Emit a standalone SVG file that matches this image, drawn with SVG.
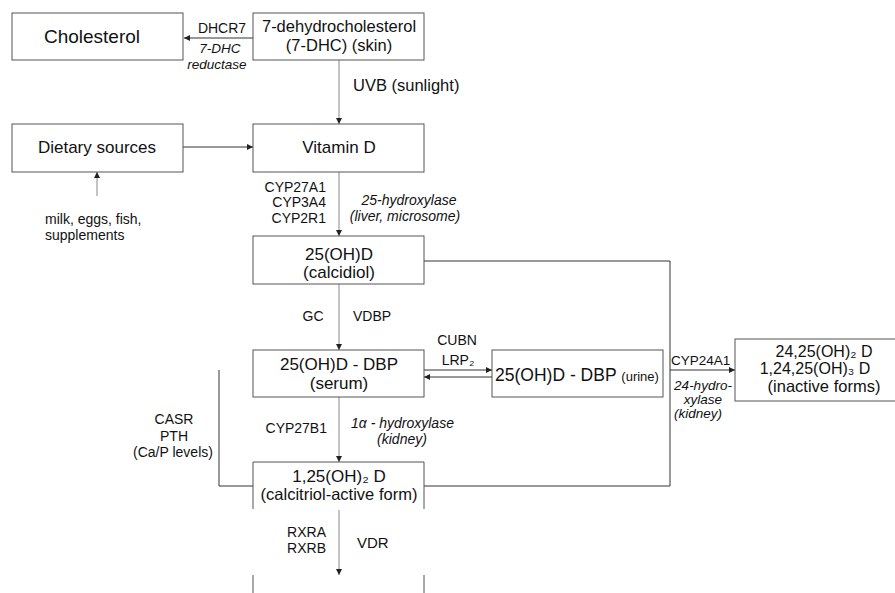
<svg xmlns="http://www.w3.org/2000/svg" width="895" height="593" viewBox="0 0 895 593">
<style>
text{font-family:"Liberation Sans",Arial,sans-serif;fill:#111}
.box{fill:#fff;stroke:#555;stroke-width:1}
.bt{font-size:17px;text-anchor:middle}
.lb{font-size:14px}
.it{font-size:14px;font-style:italic}
.c{text-anchor:middle}
.r{text-anchor:end}
.cg{fill:none;stroke:#888;stroke-width:1}
.cd{fill:none;stroke:#333;stroke-width:1}
</style>
<defs>
<marker id="ah" markerUnits="userSpaceOnUse" markerWidth="7" markerHeight="6" refX="6" refY="3" orient="auto">
<path d="M0,0 L6,3 L0,6 z" fill="#222"/>
</marker>
</defs>
<g id="connectors">
<line class="cd" x1="253" y1="38" x2="184" y2="38" marker-end="url(#ah)"/>
<line class="cg" x1="339" y1="60" x2="339" y2="124" marker-end="url(#ah)"/>
<line class="cd" x1="183" y1="147" x2="253" y2="147" marker-end="url(#ah)"/>
<line class="cg" x1="97" y1="196" x2="97" y2="172" marker-end="url(#ah)"/>
<line class="cg" x1="339" y1="172" x2="339" y2="236" marker-end="url(#ah)"/>
<line class="cg" x1="339" y1="284" x2="339" y2="350" marker-end="url(#ah)"/>
<line class="cd" x1="424" y1="370" x2="492" y2="370" marker-end="url(#ah)"/>
<line class="cd" x1="492" y1="377" x2="424" y2="377" marker-end="url(#ah)"/>
<line class="cg" x1="339" y1="397" x2="339" y2="462" marker-end="url(#ah)"/>
<polyline class="cd" points="424,261 670,261 670,486 424,486"/>
<line class="cd" x1="670" y1="370" x2="735" y2="370" marker-end="url(#ah)"/>
<polyline class="cd" points="219,370 219,486 253,486"/>
<line class="cg" x1="339" y1="510" x2="339" y2="575" marker-end="url(#ah)"/>
</g>
<g id="labels">
<text class="lb c" x="222" y="33">DHCR7</text>
<text class="it c" x="220" y="53" style="font-size:13.5px">7-DHC</text>
<text class="it c" x="217" y="69" style="font-size:13.5px">reductase</text>
<text x="353" y="91" style="font-size:16.5px">UVB (sunlight)</text>
<text class="lb" x="45" y="224">milk, eggs, fish,</text>
<text class="lb" x="45" y="240">supplements</text>
<text class="lb r" x="326" y="192">CYP27A1</text>
<text class="lb r" x="326" y="207">CYP3A4</text>
<text class="lb r" x="326" y="223">CYP2R1</text>
<text class="it c" x="409" y="205">25-hydroxylase</text>
<text class="it c" x="405" y="221">(liver, microsome)</text>
<text class="lb c" x="313" y="321">GC</text>
<text class="lb" x="353" y="321">VDBP</text>
<text class="lb c" x="457" y="345">CUBN</text>
<text class="lb c" x="458" y="365">LRP₂</text>
<text class="lb r" x="327" y="433">CYP27B1</text>
<text class="it" x="351" y="428">1α - hydroxylase</text>
<text class="it c" x="402" y="444">(kidney)</text>
<text class="lb c" x="174" y="424">CASR</text>
<text class="lb c" x="174" y="441">PTH</text>
<text class="lb c" x="173" y="457">(Ca/P levels)</text>
<text class="lb" x="671" y="365" style="font-size:13.5px">CYP24A1</text>
<text class="it c" x="703" y="390" style="font-size:13.5px">24-hydro-</text>
<text class="it c" x="703" y="404" style="font-size:13.5px">xylase</text>
<text class="it c" x="698" y="418" style="font-size:13.5px">(kidney)</text>
<text class="lb r" x="326" y="537">RXRA</text>
<text class="lb r" x="326" y="553">RXRB</text>
<text class="lb" x="357" y="548" style="font-size:15px">VDR</text>
</g>
<g id="cholesterol">
<rect class="box" x="12" y="13" width="171" height="47"/>
<text class="bt" x="92" y="43" style="font-size:19px">Cholesterol</text>
</g>
<g id="dhc">
<rect class="box" x="253" y="13" width="171" height="47"/>
<text class="bt" x="339" y="32" style="font-size:16.5px">7-dehydrocholesterol</text>
<text class="bt" x="339" y="51" style="font-size:16.5px">(7-DHC) (skin)</text>
</g>
<g id="dietary">
<rect class="box" x="12" y="124" width="171" height="48"/>
<text class="bt" x="97" y="153">Dietary sources</text>
</g>
<g id="vitd">
<rect class="box" x="253" y="124" width="171" height="48"/>
<text class="bt" x="339" y="153">Vitamin D</text>
</g>
<g id="calcidiol">
<rect class="box" x="253" y="236" width="171" height="48"/>
<text class="bt" x="339" y="260">25(OH)D</text>
<text class="bt" x="339" y="278">(calcidiol)</text>
</g>
<g id="serum">
<rect class="box" x="253" y="350" width="171" height="47"/>
<text class="bt" x="339" y="370">25(OH)D - DBP</text>
<text class="bt" x="339" y="389">(serum)</text>
</g>
<g id="urine">
<rect class="box" x="492" y="350" width="171" height="47"/>
<text class="bt" x="577" y="381"><tspan style="font-size:17.5px">25(OH)D - DBP</tspan> <tspan style="font-size:13px">(urine)</tspan></text>
</g>
<g id="inactive">
<rect class="box" x="735" y="339" width="170" height="62"/>
<text class="bt" x="824" y="357" style="font-size:16px">24,25(OH)₂ D</text>
<text class="bt" x="815" y="374" style="font-size:16px">1,24,25(OH)₃ D</text>
<text class="bt" x="824" y="392" style="font-size:16.5px">(inactive forms)</text>
</g>
<g id="calcitriol">
<path d="M253,509 V462 H424 V509" fill="#fff" stroke="#555"/>
<text class="bt" x="339" y="482">1,25(OH)₂ D</text>
<text class="bt" x="339" y="500" style="font-size:16.5px">(calcitriol-active form)</text>
</g>
<g id="target">
<path d="M253,575 V593 M424,575 V593" fill="none" stroke="#555"/>
</g>
</svg>
